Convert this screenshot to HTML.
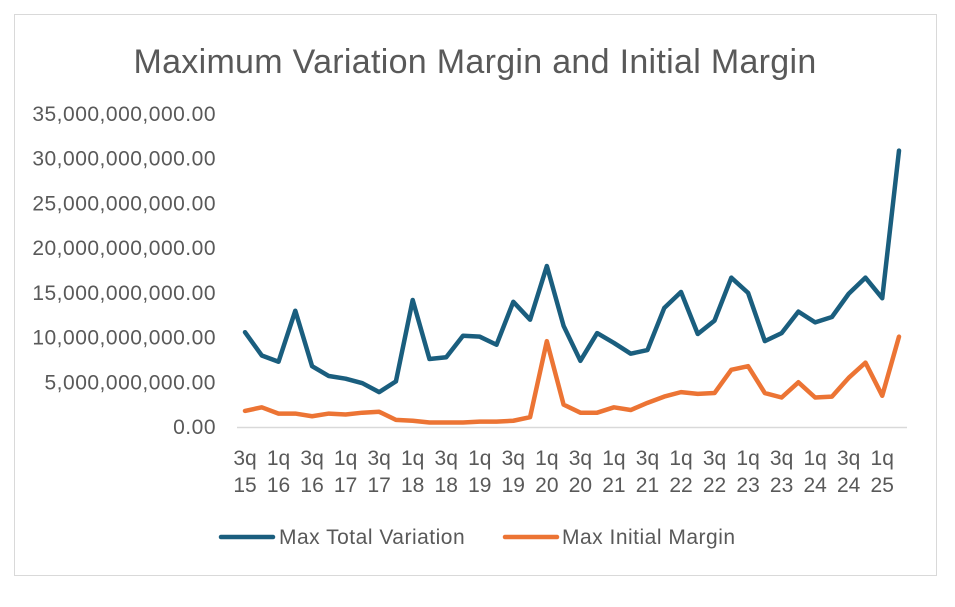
<!DOCTYPE html>
<html><head><meta charset="utf-8"><style>
body{margin:0;background:#fff;font-family:"Liberation Sans",sans-serif}
</style></head><body>
<svg width="955" height="602" xmlns="http://www.w3.org/2000/svg">
<rect x="14.5" y="14.5" width="922" height="561" fill="#fff" stroke="#d9d9d9"/>
<text x="475" y="73" text-anchor="middle" font-size="34" letter-spacing="0.3" fill="#595959" font-family="Liberation Sans, sans-serif">Maximum Variation Margin and Initial Margin</text>
<g id="yaxis"></g>
<g id="xaxis"></g>
<line x1="237" y1="427.5" x2="907" y2="427.5" stroke="#d9d9d9" stroke-width="1.5"/>
<g id="series"></g>
<g>
<g>
<line x1="221" y1="537" x2="273" y2="537" stroke="#1a5e7e" stroke-width="4.5" stroke-linecap="round"/>
<text x="279" y="544" font-size="21" letter-spacing="0.5" fill="#595959">Max Total Variation</text></g>
<g>
<line x1="505" y1="537" x2="557" y2="537" stroke="#ec7434" stroke-width="4.5" stroke-linecap="round"/>
<text x="562" y="544" font-size="21" letter-spacing="0.5" fill="#595959">Max Initial Margin</text></g>
</g>
</svg>
<script>
const yTicks=[0,5,10,15,20,25,30,35];
const yTickLabels=["0.00","5,000,000,000.00","10,000,000,000.00","15,000,000,000.00","20,000,000,000.00","25,000,000,000.00","30,000,000,000.00","35,000,000,000.00"];
const xLabelsTop=["3q","1q","3q","1q","3q","1q","3q","1q","3q","1q","3q","1q","3q","1q","3q","1q","3q","1q","3q","1q"];
const xLabelsBottom=["15","16","16","17","17","18","18","19","19","20","20","21","21","22","22","23","23","24","24","25"];
const totalVariation=[10.6,8.0,7.3,13.0,6.8,5.7,5.4,4.9,3.9,5.1,14.2,7.6,7.8,10.2,10.1,9.2,14.0,12.0,18.0,11.3,7.4,10.5,9.4,8.2,8.6,13.3,15.1,10.4,11.9,16.7,15.0,9.6,10.5,12.9,11.7,12.3,14.9,16.7,14.4,30.9];
const initialMargin=[1.8,2.2,1.5,1.5,1.2,1.5,1.4,1.6,1.7,0.8,0.7,0.5,0.5,0.5,0.6,0.6,0.7,1.1,9.6,2.5,1.6,1.6,2.2,1.9,2.7,3.4,3.9,3.7,3.8,6.4,6.8,3.8,3.3,5.0,3.3,3.4,5.5,7.2,3.5,10.1];
const NS="http://www.w3.org/2000/svg";
const y=v=>427-v*(313/35);
const x=i=>245+i*(654/39);
const ya=document.getElementById('yaxis');
yTicks.forEach((t,i)=>{const e=document.createElementNS(NS,'text');


e.setAttribute('x',216);e.setAttribute('y',y(t)+7);e.setAttribute('text-anchor','end');e.setAttribute('font-size','21');e.setAttribute('letter-spacing','0.5');e.setAttribute('fill','#595959');e.textContent=yTickLabels[i];ya.appendChild(e);});
const xa=document.getElementById('xaxis');
xLabelsTop.forEach((t,i)=>{[t,xLabelsBottom[i]].forEach((s,k)=>{const e=document.createElementNS(NS,'text');


e.setAttribute('x',x(i*2));e.setAttribute('y',465+k*27);e.setAttribute('text-anchor','middle');e.setAttribute('font-size','21');e.setAttribute('fill','#595959');e.textContent=s;xa.appendChild(e);});});
const sg=document.getElementById('series');
[[totalVariation,'#1a5e7e','line-total-variation'],[initialMargin,'#ec7434','line-initial-margin']].forEach(([d,c,n])=>{const p=document.createElementNS(NS,'polyline');


p.setAttribute('points',d.map((v,i)=>x(i)+','+y(v)).join(' '));p.setAttribute('fill','none');p.setAttribute('stroke',c);p.setAttribute('stroke-width','4.5');p.setAttribute('stroke-linejoin','round');p.setAttribute('stroke-linecap','round');sg.appendChild(p);});
</script>
</body></html>
